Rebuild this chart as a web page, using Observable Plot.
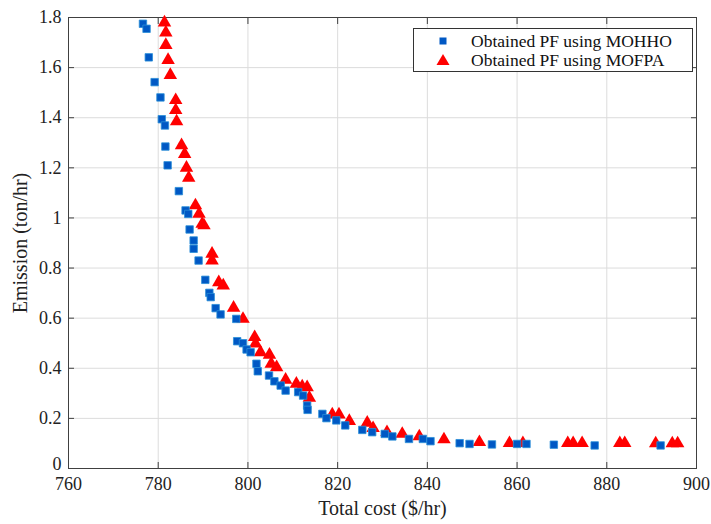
<!DOCTYPE html>
<html>
<head>
<meta charset="utf-8">
<script src="https://cdn.jsdelivr.net/npm/d3@7"></script>
<script src="https://cdn.jsdelivr.net/npm/@observablehq/plot@0.6"></script>
<style>
  body { margin: 0; background: #fff; }
  #wrap { position: relative; width: 711px; height: 524px; font-family: "Liberation Serif", "Times New Roman", serif; }
  #legend { position: absolute; left: 413px; top: 28px; width: 280px; height: 44px; border: 1px solid #333; background: #fff; box-sizing: border-box; font-size: 17.5px; color: #111; }
  .row { position: absolute; left: 0; height: 20px; line-height: 20px; white-space: nowrap; }
  .row svg { position: absolute; left: 22px; top: 0; }
  .row span { position: absolute; left: 57px; top: 0; }
</style>
</head>
<body>
<div id="wrap"></div>
<script>
const xTicks = [760, 780, 800, 820, 840, 860, 880, 900];
const yTicks = [0, 0.2, 0.4, 0.6, 0.8, 1, 1.2, 1.4, 1.6, 1.8];
const seriesNames = ["Obtained PF using MOHHO", "Obtained PF using MOFPA"];

const mohhoCost = [776.6, 777.4, 777.9, 779.2, 780.5, 780.8, 781.5, 781.6, 782.1, 784.6, 786.1, 786.7, 787.0, 787.9, 787.9, 789.0, 790.5, 791.4, 791.7, 792.8, 793.9, 797.4, 797.6, 798.9, 799.7, 800.6, 801.9, 802.2, 804.7, 805.9, 807.3, 808.4, 811.2, 812.3, 813.2, 813.3, 816.6, 817.5, 819.7, 821.7, 825.5, 827.7, 830.5, 832.2, 835.9, 839.0, 840.7, 847.2, 849.4, 854.4, 860.0, 862.1, 868.2, 877.3, 892.0];
const mohhoEmission = [1.775, 1.755, 1.641, 1.542, 1.481, 1.394, 1.369, 1.285, 1.210, 1.107, 1.03, 1.016, 0.954, 0.910, 0.877, 0.830, 0.753, 0.701, 0.684, 0.640, 0.615, 0.597, 0.508, 0.500, 0.475, 0.464, 0.418, 0.388, 0.371, 0.348, 0.331, 0.311, 0.305, 0.291, 0.251, 0.234, 0.218, 0.201, 0.192, 0.172, 0.154, 0.145, 0.138, 0.128, 0.118, 0.118, 0.109, 0.101, 0.098, 0.096, 0.098, 0.098, 0.095, 0.092, 0.092];

const mofpaCost = [781.4, 781.7, 781.7, 782.2, 782.7, 783.9, 783.9, 784.1, 785.2, 785.9, 786.3, 786.8, 788.3, 789.1, 789.8, 790.2, 792.0, 792.0, 793.5, 794.5, 796.8, 798.9, 801.5, 801.7, 802.8, 804.8, 805.2, 806.4, 808.4, 810.8, 812.1, 813.2, 813.7, 818.8, 820.3, 822.6, 826.6, 827.9, 831.0, 834.4, 838.2, 843.7, 851.6, 858.3, 861.3, 871.3, 872.5, 874.5, 882.9, 884.0, 890.9, 894.6, 895.8];
const mofpaEmission = [1.78, 1.74, 1.69, 1.63, 1.57, 1.47, 1.43, 1.385, 1.29, 1.255, 1.20, 1.16, 1.05, 1.016, 0.976, 0.97, 0.857, 0.83, 0.743, 0.73, 0.641, 0.597, 0.524, 0.498, 0.464, 0.454, 0.418, 0.404, 0.354, 0.338, 0.327, 0.324, 0.282, 0.215, 0.215, 0.189, 0.182, 0.161, 0.145, 0.138, 0.128, 0.116, 0.105, 0.101, 0.101, 0.101, 0.101, 0.101, 0.101, 0.101, 0.100, 0.100, 0.100];

const mohho = mohhoCost.map((c, i) => ({cost: c, emission: mohhoEmission[i]}));
const mofpa = mofpaCost.map((c, i) => ({cost: c, emission: mofpaEmission[i]}));

const blue = "#0058c4";
const red = "#ff0000";
const axisColor = "#404040";
const fmtY = d => d === 0 ? "0" : String(+d.toFixed(1));

const chart = Plot.plot({
  width: 711,
  height: 524,
  marginLeft: 68,
  marginRight: 15,
  marginTop: 17,
  marginBottom: 56,
  style: {fontFamily: "Liberation Serif, Times New Roman, serif", fontSize: "18px", color: "#222", background: "#fff"},
  x: {domain: [760, 900]},
  y: {domain: [0, 1.8]},
  marks: [
    Plot.gridX(xTicks, {stroke: "#dcdcdc", strokeOpacity: 1}),
    Plot.gridY(yTicks, {stroke: "#dcdcdc", strokeOpacity: 1}),
    Plot.frame({stroke: axisColor}),
    Plot.axisX(xTicks, {anchor: "bottom", tickSize: -6, tickFormat: () => "", stroke: axisColor, label: null}),
    Plot.axisX(xTicks, {anchor: "top", tickSize: -6, tickFormat: () => "", stroke: axisColor, label: null}),
    Plot.axisY(yTicks, {anchor: "left", tickSize: -6, tickFormat: () => "", stroke: axisColor, label: null}),
    Plot.axisY(yTicks, {anchor: "right", tickSize: -6, tickFormat: () => "", stroke: axisColor, label: null}),
    Plot.axisX(xTicks, {anchor: "bottom", tickSize: 0, tickPadding: 9, fontSize: 18, label: "Total cost ($/hr)", labelAnchor: "center", labelArrow: "none", labelOffset: 46}),
    Plot.axisY(yTicks, {anchor: "left", tickSize: 0, tickPadding: 7, fontSize: 18, tickFormat: fmtY, label: "Emission (ton/hr)", labelAnchor: "center", labelArrow: "none", labelOffset: 56}),
    Plot.dot(mofpa, {x: "cost", y: "emission", symbol: "triangle", r: 5, fill: red, stroke: "none"}),
    Plot.dot(mohho, {x: "cost", y: "emission", symbol: "square", r: 4.2, fill: blue, stroke: "#2a8fd8", strokeWidth: 0.8})
  ]
});

const wrap = document.getElementById("wrap");
wrap.appendChild(chart);

// axis titles slightly larger than tick labels
chart.querySelectorAll("g[aria-label='x-axis label'] text, g[aria-label='y-axis label'] text").forEach(t => t.setAttribute("font-size", "20"));
// lift the y "0" label a touch so it clears the "760" label below it
chart.querySelectorAll("g[aria-label='y-axis tick label'] text").forEach(t => {
  if (t.textContent === "0") t.setAttribute("dy", "-4");
});

// legend
const legend = document.createElement("div");
legend.id = "legend";
const shapes = [
  `<svg width="14" height="20"><rect x="3.5" y="6.5" width="7" height="7" fill="${blue}"/></svg>`,
  `<svg width="14" height="20"><path d="M7,4 L13.5,15 L0.5,15 Z" fill="${red}"/></svg>`
];
seriesNames.forEach((name, i) => {
  const row = document.createElement("div");
  row.className = "row";
  row.style.top = (i === 0 ? 2 : 21) + "px";
  row.innerHTML = shapes[i];
  const span = document.createElement("span");
  span.textContent = name;
  row.appendChild(span);
  legend.appendChild(row);
});
wrap.appendChild(legend);
</script>
</body>
</html>
